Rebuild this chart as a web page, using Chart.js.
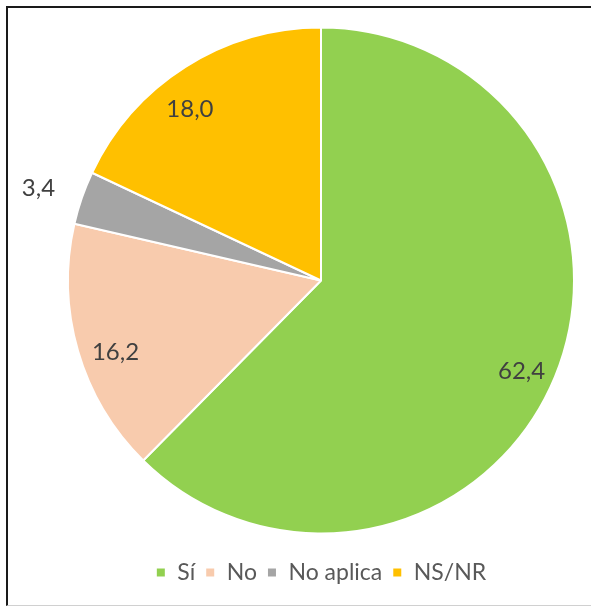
<!DOCTYPE html>
<html lang="es">
<head>
  <meta charset="UTF-8">
  <title>Gráfico de torta</title>
  <script src="https://cdn.jsdelivr.net/npm/chart.js"></script>
  <style>
    body { margin: 0; background: #fff; }
    #frame {
      position: absolute; left: 6px; top: 6px; width: 585px; height: 600px;
      border-left: 2px solid #1a1a1a; border-top: 2px solid #1a1a1a;
      border-bottom: 1px solid #d0d0d0; box-sizing: border-box;
    }
    #wrap { position: absolute; left: 0; top: 0; width: 591px; height: 609px; }
  </style>
</head>
<body>
  <div id="frame"></div>
  <div id="wrap"><canvas id="pieChart"></canvas></div>

  <script>
    // datos
    const categorias = ['Sí', 'No', 'No aplica', 'NS/NR'];
    const valores = [62.4, 16.2, 3.4, 18.0];
    const colores = ['#92D050', '#F8CBAD', '#A5A5A5', '#FFC000'];
    // posición de cada etiqueta: fracción del radio y giro en grados (la pequeña va fuera)
    const distEtiqueta = [0.87, 0.86, 1.175, 0.853];
    const giroEtiqueta = [2, -3, -1, -5];

    // etiquetas de datos dibujadas sobre cada sector
    const etiquetas = {
      id: 'etiquetas',
      afterDatasetsDraw(chart) {
        const ctx = chart.ctx;
        const meta = chart.getDatasetMeta(0);
        ctx.save();
        ctx.font = '24px Lato';
        ctx.fillStyle = '#404040';
        ctx.textAlign = 'center';
        ctx.textBaseline = 'middle';
        meta.data.forEach((arc, i) => {
          const p = arc.getProps(['x', 'y', 'startAngle', 'endAngle', 'outerRadius'], true);
          const ang = (p.startAngle + p.endAngle) / 2 + giroEtiqueta[i] * Math.PI / 180;
          const r = p.outerRadius * distEtiqueta[i];
          const txt = valores[i].toFixed(1).replace('.', ',');
          ctx.fillText(txt, p.x + Math.cos(ang) * r, p.y + Math.sin(ang) * r);
        });
        ctx.restore();
      }
    };

    new Chart(document.getElementById('pieChart'), {
      type: 'pie',
      data: {
        labels: categorias,
        datasets: [{
          data: valores,
          backgroundColor: colores,
          borderColor: '#ffffff',
          borderWidth: 2
        }]
      },
      options: {
        responsive: true,
        maintainAspectRatio: false,
        animation: false,
        layout: { padding: { left: 67, right: 16, top: 10, bottom: 15 } },
        plugins: {
          tooltip: { enabled: false },
          legend: {
            position: 'bottom',
            labels: {
              boxWidth: 10,
              boxHeight: 10,
              padding: 10,
              color: '#595959',
              font: { family: 'Lato', size: 23, lineHeight: 0.45 }
            }
          }
        }
      },
      plugins: [etiquetas]
    });
  </script>
</body>
</html>
